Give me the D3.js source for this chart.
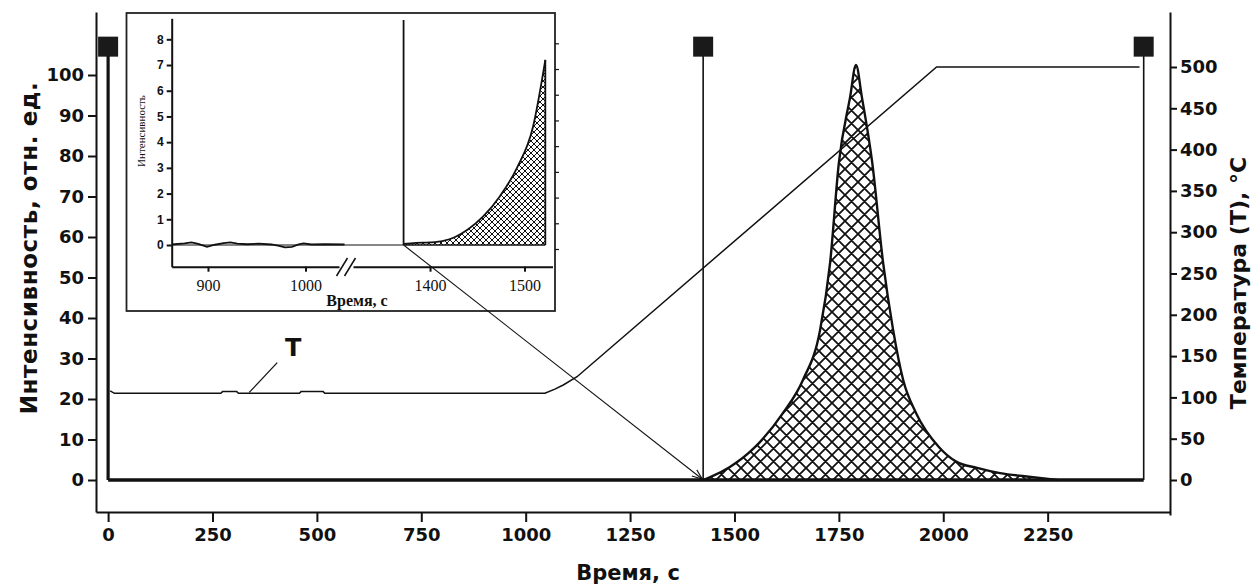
<!DOCTYPE html>
<html>
<head>
<meta charset="utf-8">
<script src="https://cdn.jsdelivr.net/npm/d3@7"></script>
<style>
    body { margin: 0; background: #fff; }
    svg { display: block; }
</style>
</head>
<body>
<div id="chart"></div>
<script>
// ---- data ----
const timeTicks = [0, 250, 500, 750, 1000, 1250, 1500, 1750, 2000, 2250];
const intensityTicks = [0, 10, 20, 30, 40, 50, 60, 70, 80, 90, 100];
const tempTicks = [0, 50, 100, 150, 200, 250, 300, 350, 400, 450, 500];

// temperature programme, s / °C
const tempTime = [5, 15, 270, 274, 308, 312, 458, 462, 515, 519, 1046, 1070, 1090, 1123, 1984, 2470];
const tempValue = [108, 105, 105, 107, 107, 105, 105, 107, 107, 105, 105, 110, 115, 125, 500, 500];

// desorption peak, s / rel. units
const peakTime = [1425, 1442, 1489, 1549, 1616, 1664, 1705, 1729, 1750, 1777, 1791, 1805, 1830, 1856, 1880, 1904, 1935, 1990, 2030, 2081, 2136, 2215, 2273];
const peakValue = [0, 0.7, 3.2, 8.1, 16.5, 24.7, 37, 53.6, 78.3, 94.6, 102.5, 94.6, 78.3, 53.6, 37, 24.7, 16.5, 8.1, 4.6, 3, 1.7, 0.7, 0];

// baseline of the intensity record
const baseTime = [0, 2480];
const baseValue = [0, 0];

// cursors (black squares)
const cursorTime = [0, 1425, 2480];
const cursorLevel = 107;

// "T" label and its leader, in time / temperature units
const tLabel = [443, 160];
const tLeader = [[405, 142], [338, 106]];

// inset
const insetTicksX = [900, 1000, 1400, 1500];
const insetTicksY = [0, 1, 2, 3, 4, 5, 6, 7, 8];
const insetNoiseTime = [863, 876, 883, 890, 899, 907, 916, 923, 930, 940, 952, 965, 973, 979, 986, 993, 998, 1006, 1020, 1040];
const insetNoiseValue = [0.02, 0.06, 0.1, 0.04, -0.07, 0.01, 0.07, 0.1, 0.05, 0.03, 0.05, 0.02, -0.03, -0.09, -0.07, 0.02, 0.06, 0.02, 0.03, 0.02];
const insetPeakTime = [1372, 1385, 1400, 1414, 1426, 1440, 1456, 1474, 1492, 1509, 1522];
const insetPeakValue = [0.04, 0.08, 0.1, 0.16, 0.3, 0.6, 1.1, 1.9, 3.0, 4.6, 7.2];
const insetCursor = 1372;
const insetCursorTop = 8.75;

// ---- layout ----
const width = 1252;
const height = 586;
const ink = '#111';
const sans = '"DejaVu Sans", Verdana, sans-serif';
const serif = '"Liberation Serif", "Times New Roman", serif';
const plain = d3.format('d');

const svg = d3.select('#chart')
    .append('svg').attr('width', width).attr('height', height);

const defs = svg.append('defs');

// cross hatch fill
function hatch(id, s, w) {
    const p = defs.append('pattern')
        .attr('id', id)
        .attr('patternUnits', 'userSpaceOnUse')
        .attr('width', s).attr('height', s);
    p.append('path')
        .attr('d', `M-1,1 l2,-2 M0,${s} l${s},${-s} M${s - 1},${s + 1} l2,-2 M-1,${s - 1} l2,2 M0,0 l${s},${s} M${s - 1},-1 l2,2`)
        .attr('stroke', ink)
        .attr('stroke-width', w)
        .attr('fill', 'none');
}
hatch('hatchMain', 13, 1.8);
hatch('hatchInset', 6, 1);

defs.append('marker')
    .attr('id', 'arrowHead')
    .attr('viewBox', '0 0 10 10')
    .attr('refX', 10).attr('refY', 5)
    .attr('markerWidth', 10).attr('markerHeight', 10)
    .attr('markerUnits', 'userSpaceOnUse')
    .attr('orient', 'auto')
    .append('path')
    .attr('d', 'M0,1 L10,5 L0,9')
    .attr('fill', 'none')
    .attr('stroke', ink)
    .attr('stroke-width', 1.2);

// Scales
const x = d3.scaleLinear().domain([-29, 2543]).range([96, 1170]);
const yI = d3.scaleLinear().domain([0, 100]).range([480, 75]);
const yT = d3.scaleLinear().domain([0, 500]).range([480, 67]);

const yIAxisScale = yI.copy().domain([yI.invert(512), yI.invert(12)]).range([512, 12]);
const yTAxisScale = yT.copy().domain([yT.invert(515), yT.invert(12)]).range([515, 12]);

function styleAxis(g, font, size, weight) {
    g.select('.domain').attr('stroke', ink).attr('stroke-width', 2);
    g.selectAll('.tick line').attr('stroke', ink).attr('stroke-width', 2);
    g.selectAll('.tick text')
        .attr('fill', ink)
        .style('font-family', font)
        .style('font-size', size + 'px')
        .style('font-weight', weight);
}

// ---- main plot ----
const plot = svg.append('g');

const tempLine = d3.line()
    .x((d, i) => x(tempTime[i]))
    .y((d) => yT(d));

const peakArea = d3.area()
    .x((d, i) => x(peakTime[i]))
    .y0(yI(0))
    .y1((d) => yI(d))
    .curve(d3.curveMonotoneX);

const peakLine = d3.line()
    .x((d, i) => x(peakTime[i]))
    .y((d) => yI(d))
    .curve(d3.curveMonotoneX);

plot.append('path')
    .datum(peakValue)
    .attr('d', peakArea)
    .attr('fill', 'url(#hatchMain)');

plot.append('path')
    .datum(peakValue)
    .attr('d', peakLine)
    .attr('fill', 'none')
    .attr('stroke', ink)
    .attr('stroke-width', 2.4);

plot.append('path')
    .datum(baseValue)
    .attr('d', d3.line().x((d, i) => x(baseTime[i])).y((d) => yI(d)))
    .attr('stroke', ink)
    .attr('stroke-width', 3.4);

plot.append('path')
    .datum(tempValue)
    .attr('d', tempLine)
    .attr('fill', 'none')
    .attr('stroke', ink)
    .attr('stroke-width', 1.5);

// cursors
plot.selectAll('.cursor')
    .data(cursorTime)
    .join('line')
    .attr('class', 'cursor')
    .attr('x1', (d) => x(d)).attr('x2', (d) => x(d))
    .attr('y1', yI(0)).attr('y2', yI(cursorLevel))
    .attr('stroke', ink)
    .attr('stroke-width', (d, i) => i === 0 ? 3.2 : 1.6);

plot.selectAll('.cursor-box')
    .data(cursorTime)
    .join('rect')
    .attr('class', 'cursor-box')
    .attr('x', (d) => x(d) - 10)
    .attr('y', yI(cursorLevel) - 10)
    .attr('width', 20).attr('height', 20)
    .attr('fill', '#1a1a1a');

// T label
plot.append('line')
    .attr('x1', x(tLeader[0][0])).attr('y1', yT(tLeader[0][1]))
    .attr('x2', x(tLeader[1][0])).attr('y2', yT(tLeader[1][1]))
    .attr('stroke', ink).attr('stroke-width', 1.2);
plot.append('text')
    .text('T')
    .attr('x', x(tLabel[0])).attr('y', yT(tLabel[1]))
    .attr('text-anchor', 'middle')
    .attr('dy', '0.35em')
    .style('font-family', sans)
    .style('font-weight', 'bold')
    .style('font-size', '24px')
    .attr('fill', ink);

// Axes
const gLeft = svg.append('g')
    .attr('transform', 'translate(96,0)')
    .call(d3.axisLeft(yIAxisScale).tickValues(intensityTicks).tickFormat(plain).tickSize(8).tickSizeOuter(0).tickPadding(4));
styleAxis(gLeft, sans, 18, 'bold');

const gBottom = svg.append('g')
    .attr('transform', 'translate(0,512)')
    .call(d3.axisBottom(x).tickValues(timeTicks).tickFormat(plain).tickSize(10).tickSizeOuter(0).tickPadding(6));
styleAxis(gBottom, sans, 18, 'bold');

const gRight = svg.append('g')
    .attr('transform', 'translate(1170,0)')
    .call(d3.axisRight(yTAxisScale).tickValues(tempTicks).tickFormat(plain).tickSize(7).tickSizeOuter(0).tickPadding(3));
styleAxis(gRight, sans, 18, 'bold');

// axis titles
svg.append('text')
    .text('Время, с')
    .attr('x', 628).attr('y', 580)
    .attr('text-anchor', 'middle')
    .style('font-family', sans).style('font-weight', 'bold').style('font-size', '21px')
    .attr('fill', ink);

svg.append('text')
    .text('Интенсивность, отн. ед.')
    .attr('transform', 'translate(37,248) rotate(-90)')
    .attr('text-anchor', 'middle')
    .style('font-family', sans).style('font-weight', 'bold').style('font-size', '23px')
    .style('letter-spacing', '0.6px')
    .attr('fill', ink);

svg.append('text')
    .text('Температура (Т), °С')
    .attr('transform', 'translate(1246,283) rotate(-90)')
    .attr('text-anchor', 'middle')
    .style('font-family', sans).style('font-weight', 'bold').style('font-size', '22px')
    .attr('fill', ink);

// ---- inset ----
const inset = svg.append('g');

inset.append('rect')
    .attr('x', 126.5).attr('y', 13)
    .attr('width', 428.5).attr('height', 298)
    .attr('fill', '#fff')
    .attr('stroke', '#222')
    .attr('stroke-width', 1.8);

const xIn = d3.scaleLinear()
    .domain([862.8, 1042, 1311.6, 1529.6])
    .range([171.7, 346.5, 346.5, 552.5]);
const yIn = d3.scaleLinear().domain([0, 8]).range([245, 39.3]);
const yInAxisScale = yIn.copy().domain([yIn.invert(266.7), yIn.invert(18.3)]).range([266.7, 18.3]);

// zero line up to the cursor
inset.append('line')
    .attr('x1', xIn(862.8)).attr('x2', xIn(insetCursor))
    .attr('y1', yIn(0)).attr('y2', yIn(0))
    .attr('stroke', ink).attr('stroke-width', 1.2);

inset.append('path')
    .datum(insetNoiseValue)
    .attr('d', d3.line().x((d, i) => xIn(insetNoiseTime[i])).y((d) => yIn(d)))
    .attr('fill', 'none')
    .attr('stroke', ink)
    .attr('stroke-width', 1.8);

inset.append('path')
    .datum(insetPeakValue)
    .attr('d', d3.area()
        .x((d, i) => xIn(insetPeakTime[i]))
        .y0(yIn(0))
        .y1((d) => yIn(d))
        .curve(d3.curveMonotoneX))
    .attr('fill', 'url(#hatchInset)');

inset.append('path')
    .datum(insetPeakValue)
    .attr('d', d3.line()
        .x((d, i) => xIn(insetPeakTime[i]))
        .y((d) => yIn(d))
        .curve(d3.curveMonotoneX))
    .attr('fill', 'none')
    .attr('stroke', ink)
    .attr('stroke-width', 1.8);

// close the hatched region on the right and at the bottom
const lastT = insetPeakTime[insetPeakTime.length - 1];
inset.append('line')
    .attr('x1', xIn(lastT)).attr('x2', xIn(lastT))
    .attr('y1', yIn(0)).attr('y2', yIn(insetPeakValue[insetPeakValue.length - 1]))
    .attr('stroke', ink).attr('stroke-width', 1.8);
inset.append('line')
    .attr('x1', xIn(insetCursor)).attr('x2', xIn(lastT))
    .attr('y1', yIn(0)).attr('y2', yIn(0))
    .attr('stroke', ink).attr('stroke-width', 1.5);

inset.append('line')
    .attr('x1', xIn(insetCursor)).attr('x2', xIn(insetCursor))
    .attr('y1', yIn(0)).attr('y2', yIn(insetCursorTop))
    .attr('stroke', ink).attr('stroke-width', 1.8);

const gInLeft = inset.append('g')
    .attr('transform', 'translate(171.7,0)')
    .call(d3.axisLeft(yInAxisScale).tickValues(insetTicksY).tickFormat(plain).tickSize(5).tickSizeOuter(0).tickPadding(3));
styleAxis(gInLeft, '"Liberation Sans", Arial, sans-serif', 12, 'bold');

const gInRight = inset.append('g')
    .attr('transform', 'translate(555,4)')
    .call(d3.axisRight(yIn).tickValues(insetTicksY).tickSize(4).tickFormat(''));
gInRight.select('.domain').remove();
gInRight.selectAll('.tick line').attr('stroke', ink).attr('stroke-width', 1.2);

const gInBottom = inset.append('g')
    .attr('transform', 'translate(0,266.7)')
    .call(d3.axisBottom(xIn).tickValues(insetTicksX).tickFormat(plain).tickSize(5).tickSizeOuter(0).tickPadding(8));
styleAxis(gInBottom, serif, 16, 'normal');

// axis break
const breakX = xIn(1042);
inset.append('rect')
    .attr('x', breakX - 7).attr('y', 263)
    .attr('width', 14).attr('height', 7)
    .attr('fill', '#fff');
inset.selectAll('.break')
    .data([-4, 4])
    .join('line')
    .attr('class', 'break')
    .attr('x1', (d) => breakX + d - 6).attr('y1', 276)
    .attr('x2', (d) => breakX + d + 5).attr('y2', 258)
    .attr('stroke', ink).attr('stroke-width', 1.5);

inset.append('text')
    .text('Время, с')
    .attr('x', 357).attr('y', 306)
    .attr('text-anchor', 'middle')
    .style('font-family', serif).style('font-weight', 'bold').style('font-size', '16px')
    .attr('fill', ink);

inset.append('text')
    .text('Интенсивность')
    .attr('transform', 'translate(145,131) rotate(-90)')
    .attr('text-anchor', 'middle')
    .style('font-family', serif).style('font-size', '11px')
    .attr('fill', ink);

// arrow from the inset cursor to the main cursor
svg.append('line')
    .attr('x1', xIn(insetCursor)).attr('y1', yIn(0))
    .attr('x2', x(cursorTime[1]) - 1).attr('y2', yI(0) - 1)
    .attr('stroke', ink)
    .attr('stroke-width', 1.1)
    .attr('marker-end', 'url(#arrowHead)');
</script>
</body>
</html>
